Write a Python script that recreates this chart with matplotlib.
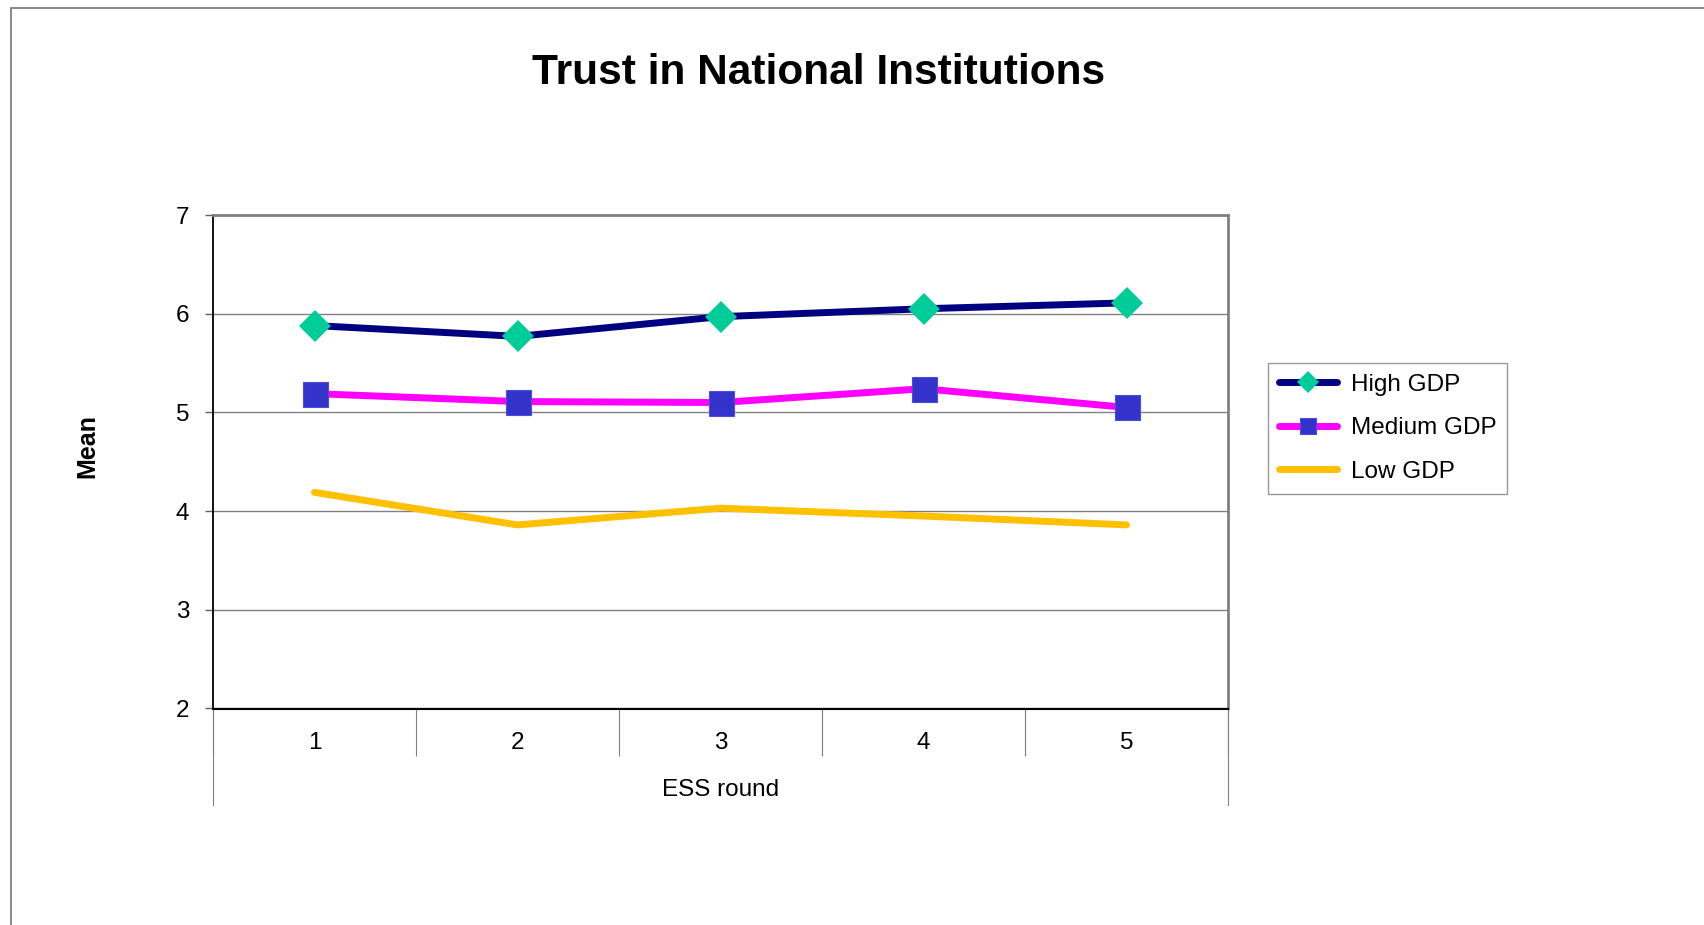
#!/usr/bin/env python3
"""Trust in national institutions by GDP group across ESS rounds."""
import numpy as np
import matplotlib
matplotlib.use("Agg")
import matplotlib.pyplot as plt
from matplotlib.patches import Rectangle

rounds = [1, 2, 3, 4, 5]
round_labels = ["1", "2", "3", "4", "5"]
high_gdp = [5.88, 5.77, 5.97, 6.05, 6.11]
medium_gdp = [5.19, 5.11, 5.10, 5.24, 5.05]
low_gdp = [4.19, 3.86, 4.03, 3.95, 3.86]
y_ticks = [2, 3, 4, 5, 6, 7]

plt.rcParams["font.family"] = ["Liberation Sans", "DejaVu Sans"]

W, H = 1704, 925
fig = plt.figure(figsize=(W / 100, H / 100), dpi=100)
ax = fig.add_axes([213 / W, 1 - 708.5 / H, (1228 - 213) / W, (708.5 - 215) / H])

# outer chart frame (runs off the right and bottom edges)
fig.patches.append(Rectangle((11 / W, -0.1), 2, 1 - 8 / H + 0.1, transform=fig.transFigure,
                             fill=False, ec="#808080", lw=1.3))

ax.plot(rounds, high_gdp, color="#000080", lw=5, marker="D", ms=16,
        mfc="#00CC99", mec="#00CC99", mew=0, solid_capstyle="round", label="High GDP", zorder=3)
ax.plot(rounds, medium_gdp, color="#FF00FF", lw=5, marker="s", ms=18,
        mfc="#3333CC", mec="#4D4DD9", mew=0.8, solid_capstyle="round", label="Medium GDP", zorder=3)
ax.plot(rounds, low_gdp, color="#FFC000", lw=5, solid_capstyle="round", label="Low GDP", zorder=3)

ax.set_xlim(0.5, 5.5)
ax.set_ylim(2, 7)
ax.set_yticks(y_ticks)
ax.yaxis.grid(True, color="#808080", lw=1)
ax.set_axisbelow(True)
ax.tick_params(axis="y", labelsize=17.5, length=6, width=1, pad=11, color="#606060")

# category boundaries as major ticks, labels on minor ticks in the middle
ax.set_xticks(np.arange(0.5, 6, 1))
ax.set_xticklabels([])
ax.set_xticks(rounds, minor=True)
ax.set_xticklabels(round_labels, minor=True)
ax.tick_params(axis="x", which="major", length=34, width=0.8, color="#808080")
ax.tick_params(axis="x", which="minor", length=0, labelsize=17.5, pad=17)
for xe in (0.5, 5.5):
    ax.plot([xe, xe], [0, -96 / (708.5 - 215)], transform=ax.get_xaxis_transform(),
            color="#808080", lw=0.8, clip_on=False)

for s in ("top", "right"):
    ax.spines[s].set_color("#808080")
    ax.spines[s].set_linewidth(2)
ax.spines["left"].set_color("black")
ax.spines["bottom"].set_color("black")
ax.spines["left"].set_linewidth(1.3)
ax.spines["bottom"].set_linewidth(1.5)

fig.text(819 / W, 1 - 73 / H, "Trust in National Institutions", ha="center", va="center",
         fontsize=30.5, fontweight="bold")
fig.text(87 / W, 1 - 446 / H, "Mean", ha="center", va="center", rotation=90,
         fontsize=18, fontweight="bold")
fig.text(721 / W, 1 - 790 / H, "ESS round", ha="center", va="center", fontsize=17.5)

leg = fig.legend(loc="upper left", bbox_to_anchor=(1268 / W, 1 - 363 / H), fontsize=17.5,
                 frameon=True, fancybox=False, edgecolor="#808080", handlelength=2.4,
                 handletextpad=0.55, labelspacing=0.88, borderpad=0.45, borderaxespad=0)
leg.get_frame().set_linewidth(1)
# legend keys carry smaller markers than the plot
for h, ms in zip(leg.legend_handles, (11, 12, 0)):
    h.set_markersize(ms)

fig.savefig("out.png", dpi=100)
print("wrote out.png")
